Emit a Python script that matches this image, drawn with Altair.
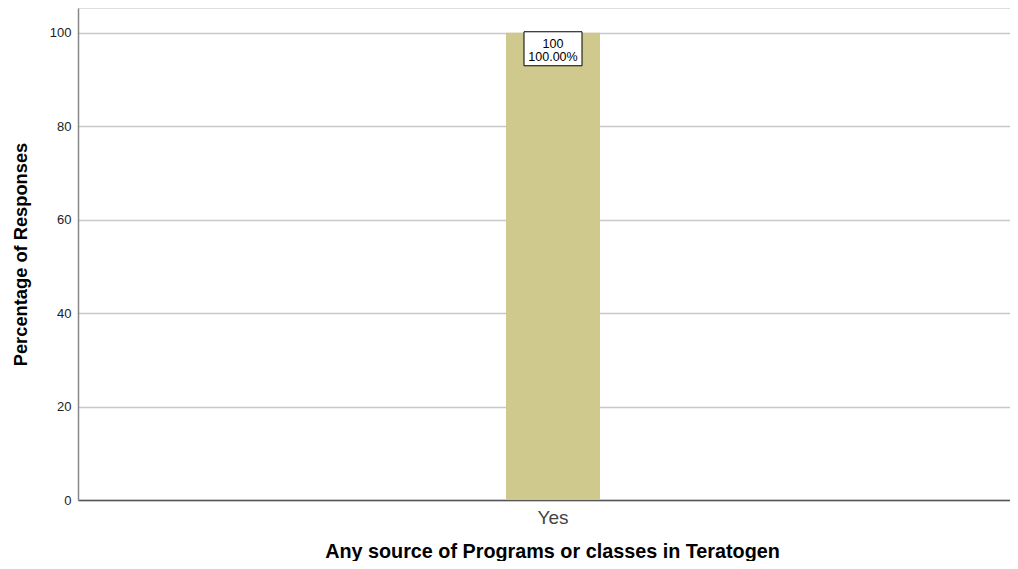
import altair as alt
import pandas as pd

categories = ["Yes"]
percentages = [100.0]
counts = [100]
labels = ["100\n100.00%"]

df = pd.DataFrame({
    "category": categories,
    "pct": percentages,
    "count": counts,
    "label": labels,
})

FONT = "Liberation Sans"
BAR_COLOR = "#cfc98e"

x_enc = alt.X(
    "category:N",
    title="Any source of Programs or classes in Teratogen",
    scale=alt.Scale(domain=categories, paddingInner=0, paddingOuter=0),
    axis=alt.Axis(
        labelAngle=0,
        labelFont=FONT,
        labelFontSize=19,
        labelColor="#444444",
        labelPadding=8,
        labelOffset=9,
        ticks=False,
        domainColor="#555555",
        domainWidth=1.5,
        titleFont=FONT,
        titleFontSize=19.8,
        titleFontWeight="bold",
        titleColor="#000000",
        titlePadding=14,
        titleX=474,
        grid=False,
    ),
)

y_enc = alt.Y(
    "pct:Q",
    title="Percentage of Responses",
    scale=alt.Scale(domain=[0, 105.3], nice=False),
    axis=alt.Axis(
        values=[0, 20, 40, 60, 80, 100],
        labelFont=FONT,
        labelFontSize=13,
        labelColor="#222222",
        labelPadding=7,
        ticks=False,
        domainColor="#888888",
        domainWidth=1.5,
        gridColor="#c8c8c8",
        gridWidth=1.5,
        titleFont=FONT,
        titleFontSize=18.3,
        titleFontWeight="bold",
        titleColor="#000000",
        titlePadding=19,
    ),
)

base = alt.Chart(df)

bars = base.mark_bar(color=BAR_COLOR, size=94, xOffset=9).encode(x=x_enc, y=y_enc)

box = base.mark_rect(
    fill="white", stroke="black", strokeWidth=1, width=58, height=34, xOffset=9, yOffset=16
).encode(x=alt.X("category:N"), y=alt.Y("pct:Q"))

text = base.mark_text(
    font=FONT, fontSize=12.5, color="#000000", lineBreak="\n", lineHeight=13,
    align="center", baseline="middle", xOffset=9, yOffset=11,
).encode(x=alt.X("category:N"), y=alt.Y("pct:Q"), text="label:N")

chart = (
    alt.layer(bars, box, text)
    .properties(
        width=932,
        height=492,
        autosize=alt.AutoSizeParams(type="none"),
        padding={"left": 70, "top": 0, "right": 0, "bottom": 61},
    )
    .configure_view(stroke=None)
    .configure(background="white")
)

chart.save("out.html", embed_options={"renderer": "svg", "actions": False})
